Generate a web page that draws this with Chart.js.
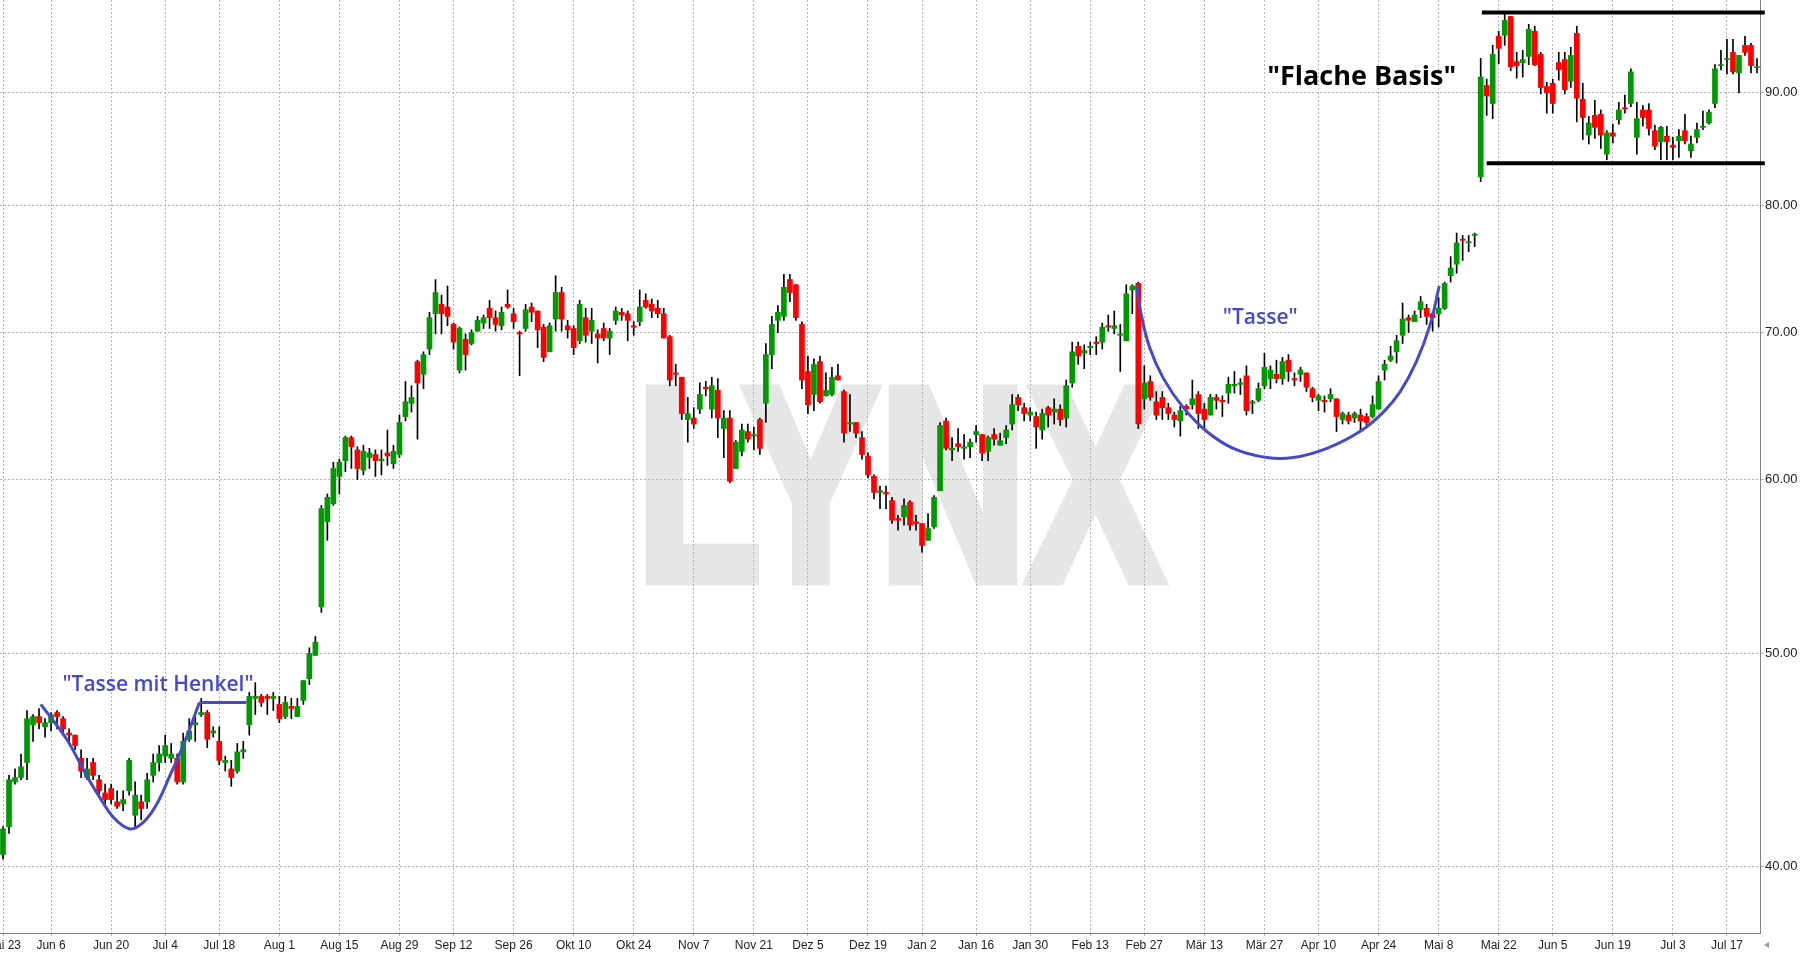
<!DOCTYPE html>
<html lang="de">
<head>
<meta charset="utf-8">
<title>Tasse mit Henkel / Flache Basis</title>
<script src="https://cdn.jsdelivr.net/npm/chart.js@4.4.1/dist/chart.umd.min.js"></script>
<style>
  html, body { margin: 0; padding: 0; background: #fff; }
  #wrap { position: relative; width: 1806px; height: 958px; }
</style>
</head>
<body>
<div id="wrap"><canvas id="chart"></canvas></div>
<script>
// ---------------------------------------------------------
// Daten (Tageskerzen)
// ---------------------------------------------------------
const startDay = "2022-05-24";
const holidays = ["2022-05-30", "2022-06-20", "2022-07-04", "2022-09-05", "2022-11-24", "2022-12-26",
  "2023-01-02", "2023-01-16", "2023-02-20", "2023-04-07", "2023-05-29", "2023-07-04"];

const tickDates = ["2022-05-23", "2022-06-06", "2022-06-20", "2022-07-04", "2022-07-18", "2022-08-01",
  "2022-08-15", "2022-08-29", "2022-09-12", "2022-09-26", "2022-10-10", "2022-10-24", "2022-11-07",
  "2022-11-21", "2022-12-05", "2022-12-19", "2023-01-02", "2023-01-16", "2023-01-30", "2023-02-13",
  "2023-02-27", "2023-03-13", "2023-03-27", "2023-04-10", "2023-04-24", "2023-05-08", "2023-05-22",
  "2023-06-05", "2023-06-19", "2023-07-03", "2023-07-17"];
const tickLabels = ["Mai 23", "Jun 6", "Jun 20", "Jul 4", "Jul 18", "Aug 1", "Aug 15", "Aug 29", "Sep 12",
  "Sep 26", "Okt 10", "Okt 24", "Nov 7", "Nov 21", "Dez 5", "Dez 19", "Jan 2", "Jan 16", "Jan 30",
  "Feb 13", "Feb 27", "Mär 13", "Mär 27", "Apr 10", "Apr 24", "Mai 8", "Mai 22", "Jun 5", "Jun 19",
  "Jul 3", "Jul 17"];
const yTicks = [40, 50, 60, 70, 80, 90];

const openP = [
  40.5, 41.7, 43.7, 43.9, 44.6, 46.4, 46.8, 46.3, 46.5, 47.0,
  46.7, 46.0, 45.9, 44.8, 43.9, 44.6, 43.8, 43.2, 43.4, 42.8,
  42.7, 43.3, 42.2, 42.8, 42.8, 44.0, 44.6, 44.9, 44.8, 44.8,
  43.7, 45.7, 46.4, 46.9, 47.0, 46.0, 45.6, 44.6, 44.3, 44.2,
  45.1, 46.4, 47.7, 47.8, 47.8, 47.7, 47.4, 46.8, 47.3, 46.8,
  47.6, 48.7, 49.9, 52.5, 57.4, 58.5, 60.2, 61.2, 62.7, 61.9,
  60.6, 61.4, 61.6, 61.2, 61.7, 61.0, 61.6, 64.1, 65.0, 67.9,
  67.0, 68.8, 71.4, 72.1, 71.9, 70.6, 67.3, 69.5, 69.2, 70.1,
  70.7, 71.8, 71.1, 70.5, 72.1, 71.4, 70.0, 70.3, 71.9, 71.6,
  70.4, 68.6, 71.0, 73.0, 70.5, 70.3, 69.4, 71.1, 70.1, 69.9,
  70.3, 69.6, 70.9, 71.5, 71.4, 70.5, 70.8, 72.4, 72.1, 71.8,
  71.4, 69.7, 67.1, 66.8, 63.9, 64.0, 64.6, 66.1, 64.6, 65.9,
  63.3, 64.0, 60.7, 61.8, 63.1, 62.8, 63.9, 65.0, 68.4, 70.9,
  71.2, 74.0, 73.6, 70.6, 67.2, 65.6, 67.9, 65.5, 65.6, 66.9,
  65.8, 63.6, 63.7, 62.7, 61.5, 60.2, 59.2, 59.2, 58.7, 57.6,
  57.7, 58.6, 57.4, 57.3, 56.3, 57.1, 59.3, 63.8, 61.9, 62.3,
  62.0, 62.1, 62.9, 62.9, 61.8, 62.9, 62.2, 62.7, 63.6, 65.4,
  64.7, 64.2, 64.1, 63.2, 64.7, 64.4, 64.6, 64.0, 66.4, 69.0,
  68.5, 68.9, 69.3, 69.3, 70.5, 70.3, 69.8, 69.4, 73.2, 73.7,
  65.3, 66.5, 65.1, 65.4, 64.7, 64.2, 63.8, 64.8, 64.9, 65.6,
  64.6, 64.2, 65.4, 65.2, 65.7, 66.2, 66.3, 66.9, 65.0, 65.2,
  66.2, 66.7, 67.0, 66.7, 68.0, 66.7, 67.0, 67.1, 66.0, 65.2,
  65.2, 65.3, 65.3, 63.9, 64.2, 64.0, 64.2, 64.1, 64.1, 64.6,
  67.3, 68.0, 68.6, 69.8, 71.1, 70.8, 71.7, 71.8, 71.4, 71.4,
  71.8, 74.3, 75.2, 77.2, 76.9, 77.5, 82.4, 90.7, 89.0, 95.5,
  95.6, 97.5, 93.0, 92.9, 93.5, 96.0, 93.7, 90.6, 90.9, 92.9,
  93.2, 91.1, 95.8, 89.4, 86.1, 87.9, 88.0, 84.4, 86.3, 87.5,
  88.6, 89.0, 85.9, 88.4, 88.4, 86.5, 85.5, 86.0, 85.2, 85.6,
  86.5, 84.7, 85.9, 86.8, 87.2, 89.0, 92.6, 93.2, 93.9, 91.9,
  94.6, 94.6, 92.4
];
const highP = [
  41.7, 44.0, 44.3, 45.0, 47.1, 46.9, 47.2, 46.7, 47.0, 47.1,
  46.8, 46.2, 45.9, 45.2, 44.8, 44.8, 44.0, 43.6, 43.6, 43.3,
  43.3, 44.8, 43.7, 43.1, 44.1, 45.0, 45.4, 45.9, 45.5, 45.0,
  46.0, 46.7, 46.8, 47.7, 47.1, 46.3, 46.3, 44.9, 44.7, 45.5,
  45.6, 48.0, 48.5, 47.9, 47.9, 48.0, 47.8, 47.8, 47.7, 47.7,
  48.6, 50.3, 50.9, 58.4, 59.1, 61.1, 61.3, 62.8, 62.8, 62.1,
  62.2, 62.0, 61.9, 61.9, 63.2, 62.2, 64.2, 66.5, 66.2, 68.0,
  68.6, 71.5, 74.0, 72.8, 73.5, 70.7, 70.4, 69.9, 70.2, 71.2,
  71.3, 72.4, 71.6, 71.9, 73.2, 71.8, 70.1, 72.1, 72.2, 71.6,
  70.6, 70.7, 74.3, 73.4, 70.9, 70.5, 72.4, 71.8, 71.8, 70.2,
  70.7, 70.3, 71.9, 71.8, 71.6, 70.8, 73.2, 72.9, 72.5, 72.4,
  71.8, 69.8, 67.7, 66.8, 65.4, 64.7, 66.4, 66.5, 66.8, 66.7,
  64.5, 64.5, 62.5, 63.6, 63.6, 63.4, 64.0, 69.2, 71.2, 72.0,
  74.4, 74.4, 73.6, 70.8, 68.3, 68.1, 68.3, 67.1, 67.5, 67.7,
  65.9, 65.6, 63.7, 63.1, 61.7, 60.3, 59.6, 59.6, 58.9, 57.8,
  58.8, 58.7, 57.8, 57.3, 57.9, 59.0, 63.7, 64.0, 62.7, 63.3,
  62.9, 62.6, 63.5, 62.9, 62.8, 63.3, 63.0, 63.5, 65.6, 65.6,
  65.0, 64.7, 64.4, 64.6, 64.8, 65.3, 64.9, 66.6, 69.3, 69.3,
  69.1, 69.3, 69.7, 70.7, 71.3, 71.6, 70.6, 73.6, 73.6, 73.8,
  67.6, 66.9, 65.8, 65.8, 65.0, 64.4, 64.8, 64.9, 66.6, 65.8,
  65.0, 65.6, 65.6, 65.5, 66.8, 67.2, 66.7, 67.6, 65.2, 66.4,
  68.5, 67.6, 68.0, 68.2, 68.4, 67.1, 67.5, 67.1, 66.1, 65.6,
  65.5, 66.0, 65.3, 64.4, 64.4, 64.4, 64.6, 64.3, 65.5, 66.9,
  68.0, 69.0, 69.8, 72.2, 71.3, 71.6, 72.7, 72.1, 71.5, 72.6,
  73.8, 75.8, 77.7, 77.5, 77.5, 77.7, 93.3, 91.3, 94.6, 96.0,
  97.7, 97.5, 93.9, 94.1, 96.7, 96.5, 93.9, 91.0, 91.3, 93.9,
  93.9, 94.4, 96.5, 90.9, 87.8, 89.3, 88.4, 86.5, 87.1, 89.1,
  89.8, 92.3, 89.1, 88.8, 89.0, 87.0, 86.9, 86.9, 85.9, 86.6,
  88.0, 86.0, 87.2, 88.3, 88.4, 92.7, 94.1, 95.2, 95.2, 93.6,
  95.5, 94.8, 93.3
];
const lowP = [
  40.3, 41.4, 43.6, 43.8, 43.8, 45.6, 46.2, 45.8, 46.1, 46.2,
  45.9, 45.6, 45.2, 43.9, 43.8, 43.8, 43.0, 42.7, 42.7, 42.5,
  42.4, 43.1, 41.7, 42.0, 42.5, 43.7, 44.2, 44.6, 44.6, 43.6,
  43.6, 45.6, 45.6, 46.8, 45.3, 45.8, 44.5, 44.2, 43.5, 44.1,
  44.8, 45.9, 46.9, 47.3, 46.9, 47.1, 46.5, 46.7, 46.7, 46.8,
  47.4, 48.4, 49.9, 52.2, 56.3, 58.4, 59.1, 60.5, 60.7, 60.0,
  60.3, 60.7, 60.2, 60.3, 60.9, 60.7, 61.4, 63.8, 64.4, 62.6,
  66.0, 68.4, 69.9, 69.9, 70.5, 68.8, 67.1, 67.3, 69.1, 70.1,
  70.3, 70.3, 70.1, 70.2, 71.8, 70.3, 66.9, 70.1, 70.8, 68.9,
  67.9, 68.6, 70.1, 70.1, 69.6, 68.4, 69.2, 69.3, 69.2, 67.8,
  69.4, 68.4, 70.6, 70.9, 69.4, 69.8, 70.5, 71.8, 71.1, 71.1,
  69.6, 66.2, 66.2, 63.9, 62.4, 63.3, 64.3, 65.5, 64.0, 62.7,
  61.4, 59.8, 60.7, 61.5, 62.4, 61.9, 61.6, 63.7, 67.4, 70.0,
  70.9, 72.3, 70.9, 66.0, 64.3, 64.5, 65.0, 65.5, 65.5, 66.6,
  62.4, 63.1, 62.7, 61.3, 60.1, 58.8, 58.2, 58.2, 57.3, 56.9,
  57.2, 56.9, 56.9, 55.6, 56.3, 57.0, 59.3, 61.9, 61.2, 61.8,
  61.3, 61.4, 62.4, 61.2, 61.2, 62.2, 62.2, 62.3, 63.2, 64.5,
  63.8, 63.8, 62.0, 62.6, 63.4, 63.6, 63.5, 63.4, 66.1, 67.7,
  67.4, 68.4, 68.4, 68.8, 70.1, 69.9, 67.2, 69.4, 71.4, 63.3,
  64.6, 65.2, 63.9, 63.9, 63.9, 63.4, 62.8, 64.2, 64.6, 63.3,
  63.3, 64.2, 64.6, 64.1, 65.0, 65.7, 65.6, 64.2, 64.3, 65.1,
  66.0, 66.0, 66.4, 66.3, 66.5, 66.2, 66.5, 65.8, 65.1, 64.5,
  64.4, 65.1, 63.1, 63.6, 63.6, 63.7, 63.1, 63.4, 64.0, 64.6,
  66.6, 67.9, 67.8, 69.2, 70.0, 70.8, 71.1, 70.6, 70.1, 70.4,
  71.7, 73.8, 74.5, 75.5, 76.2, 76.6, 82.0, 87.9, 87.6, 92.8,
  94.6, 92.1, 91.4, 91.5, 92.7, 92.6, 89.9, 88.1, 88.1, 91.2,
  89.9, 90.5, 87.3, 85.7, 85.3, 85.8, 84.9, 83.9, 85.4, 87.1,
  88.1, 88.7, 84.4, 86.9, 86.1, 84.8, 83.9, 83.9, 83.9, 84.1,
  85.3, 84.1, 85.4, 86.6, 87.1, 88.6, 92.2, 91.8, 91.8, 90.0,
  93.6, 91.9, 91.9
];
const closeP = [
  41.6, 43.8, 43.9, 44.4, 46.7, 46.8, 46.5, 46.5, 46.9, 46.8,
  46.2, 45.9, 45.4, 44.2, 44.3, 44.0, 43.3, 42.9, 42.9, 42.6,
  42.9, 44.7, 43.1, 42.5, 43.8, 44.6, 45.0, 45.4, 45.0, 43.7,
  45.6, 46.1, 46.5, 47.0, 45.7, 46.1, 44.7, 44.7, 43.9, 45.1,
  45.2, 47.8, 47.8, 47.5, 47.7, 47.8, 46.7, 47.5, 47.2, 47.3,
  48.6, 50.0, 50.6, 58.2, 58.9, 60.7, 61.1, 62.7, 62.1, 60.7,
  61.8, 61.7, 61.2, 61.3, 61.5, 61.8, 63.7, 65.1, 65.4, 66.4,
  68.4, 71.1, 73.0, 71.4, 71.2, 69.3, 70.3, 68.4, 70.0, 70.9,
  71.1, 71.1, 70.6, 71.5, 71.9, 70.8, 69.9, 71.7, 71.5, 70.2,
  68.2, 70.5, 73.0, 71.0, 70.2, 68.9, 72.1, 69.8, 70.9, 69.6,
  69.6, 70.1, 71.6, 71.3, 70.9, 70.4, 71.9, 71.9, 71.6, 71.4,
  69.6, 66.6, 67.0, 64.3, 64.3, 63.6, 65.6, 66.0, 66.2, 64.0,
  64.0, 59.9, 62.4, 63.2, 62.6, 62.9, 62.0, 68.4, 70.6, 71.5,
  73.4, 73.0, 71.1, 66.6, 64.9, 67.7, 65.1, 65.9, 66.8, 66.6,
  63.0, 63.7, 63.0, 61.6, 60.3, 59.2, 59.3, 59.1, 57.5, 57.5,
  58.4, 57.2, 57.3, 56.0, 57.0, 58.9, 63.5, 62.0, 62.0, 62.1,
  62.1, 62.4, 63.1, 61.7, 62.7, 62.6, 62.5, 63.2, 64.9, 64.9,
  64.3, 64.4, 63.4, 64.3, 64.2, 64.6, 63.9, 66.2, 68.6, 68.3,
  68.7, 69.0, 69.2, 70.4, 70.4, 70.5, 69.9, 72.9, 73.5, 63.6,
  66.4, 65.4, 64.2, 64.7, 64.3, 63.9, 64.5, 64.6, 65.3, 64.3,
  63.9, 65.4, 65.2, 65.1, 66.3, 66.3, 66.4, 64.5, 65.1, 66.0,
  67.5, 67.3, 66.7, 67.9, 67.2, 66.6, 67.3, 66.1, 65.4, 65.5,
  65.1, 65.6, 64.1, 64.3, 63.8, 64.3, 63.8, 63.7, 64.9, 66.5,
  67.7, 68.3, 69.4, 71.0, 70.9, 71.3, 72.3, 71.2, 71.1, 71.8,
  73.7, 74.9, 76.9, 77.1, 77.0, 77.6, 91.5, 89.7, 93.7, 94.3,
  97.1, 92.5, 92.6, 93.2, 96.2, 92.7, 90.5, 90.0, 89.0, 92.2,
  90.3, 93.6, 89.5, 87.7, 87.2, 86.8, 86.1, 86.3, 86.0, 88.4,
  88.5, 92.0, 87.6, 87.7, 86.7, 85.1, 86.8, 85.5, 85.0, 86.0,
  85.6, 85.3, 86.6, 86.9, 88.2, 92.3, 92.7, 93.3, 92.0, 93.6,
  93.9, 92.6, 92.5
];

// Einzeichnungen (x = Kerzen-Index, y = Kurs)
const henkelCup = [
  { x: 6.3, y: 47.4 }, { x: 10.6, y: 45.7 }, { x: 13.9, y: 44.0 }, { x: 16.1, y: 43.0 },
  { x: 18.4, y: 42.1 }, { x: 21.1, y: 41.6 }, { x: 23.4, y: 41.9 }, { x: 25.6, y: 42.7 },
  { x: 27.8, y: 44.0 }, { x: 30.0, y: 45.4 }, { x: 32.7, y: 47.5 }
];
const henkelHandle = [{ x: 32.7, y: 47.5 }, { x: 40.5, y: 47.5 }];
const tasseArc = [
  { x: 188.7, y: 73.5 }, { x: 189.5, y: 71.3 }, { x: 190.9, y: 68.9 }, { x: 193.2, y: 66.7 },
  { x: 196.5, y: 64.7 }, { x: 200.4, y: 63.1 }, { x: 204.8, y: 62.0 }, { x: 210.4, y: 61.4 },
  { x: 214.8, y: 61.4 }, { x: 220.4, y: 62.0 }, { x: 225.9, y: 63.1 }, { x: 229.8, y: 64.4 },
  { x: 232.6, y: 65.8 }, { x: 235.3, y: 67.9 }, { x: 237.6, y: 70.6 }, { x: 239.1, y: 73.5 }
];
const basisTop = [{ x: 246.2, y: 97.9 }, { x: 293.3, y: 97.9 }];
const basisBottom = [{ x: 247.0, y: 83.6 }, { x: 293.3, y: 83.6 }];

// ---------------------------------------------------------
// Handelstage aufbauen
// ---------------------------------------------------------
function buildTradingDays(n) {
  const days = [];
  const d = new Date(startDay + "T12:00:00Z");
  while (days.length < n) {
    const wd = d.getUTCDay();
    const iso = d.toISOString().slice(0, 10);
    if (wd !== 0 && wd !== 6 && !holidays.includes(iso)) days.push(iso);
    d.setUTCDate(d.getUTCDate() + 1);
  }
  return days;
}

const tradingDays = buildTradingDays(openP.length);
const tickIndexLabel = {};
tickDates.forEach(function (t, k) {
  const idx = tradingDays.findIndex(d => d >= t);
  if (idx >= 0) tickIndexLabel[idx] = tickLabels[k];
});

const GREEN = "#009900";
const RED = "#ff0000";
const BLUE = "#4549cc";

const wicks = lowP.map((l, i) => [l, highP[i]]);
const bodies = openP.map((o, i) => [o, closeP[i]]);
const bodyColors = openP.map((o, i) => closeP[i] >= o ? GREEN : RED);

// ---------------------------------------------------------
// Plugin: Wasserzeichen, Beschriftungen, Pfeil
// ---------------------------------------------------------
const decoPlugin = {
  id: "deco",
  beforeDraw(chart) {
    // LYNX-Wasserzeichen hinter dem Gitter
    const ctx = chart.ctx;
    ctx.save();
    ctx.fillStyle = "#e6e6e6";
    ctx.strokeStyle = "#e6e6e6";
    ctx.lineWidth = 11;
    ctx.lineJoin = "miter";
    ctx.font = "bold 276px 'Liberation Sans', Arial, sans-serif";
    ctx.textBaseline = "alphabetic";
    const w = ctx.measureText("LYNX").width + 11;
    ctx.translate(636, 580);
    ctx.scale(536 / w, 1);
    ctx.fillText("LYNX", 0, 0);
    ctx.strokeText("LYNX", 0, 0);
    ctx.restore();
  },
  afterDatasetsDraw(chart) {
    const ctx = chart.ctx;
    const xs = chart.scales.xa, ys = chart.scales.y;
    ctx.save();
    ctx.textAlign = "center";
    ctx.textBaseline = "middle";
    ctx.fillStyle = BLUE;
    ctx.font = "600 21px 'Open Sans', sans-serif";
    ctx.fillText('"Tasse mit Henkel"', xs.getPixelForValue(25.8), ys.getPixelForValue(48.4));
    ctx.fillText('"Tasse"', xs.getPixelForValue(209.3), ys.getPixelForValue(71.1));
    ctx.fillStyle = "#000";
    ctx.font = "bold 27px 'Open Sans', sans-serif";
    ctx.fillText('"Flache Basis"', xs.getPixelForValue(226.2), ys.getPixelForValue(91.5));
    ctx.restore();
  },
  afterDraw(chart) {
    const ctx = chart.ctx;
    const a = chart.chartArea;
    ctx.save();
    ctx.fillStyle = "#9a9a9a";
    ctx.beginPath();
    ctx.moveTo(a.right + 4, a.bottom + 12);
    ctx.lineTo(a.right + 9, a.bottom + 9);
    ctx.lineTo(a.right + 9, a.bottom + 15);
    ctx.closePath();
    ctx.fill();
    ctx.restore();
  }
};

// ---------------------------------------------------------
// Chart
// ---------------------------------------------------------
const lineBase = { type: "line", xAxisID: "xa", yAxisID: "y", pointRadius: 0, fill: false, clip: false, order: 1 };

new Chart(document.getElementById("chart"), {
  type: "bar",
  data: {
    labels: tradingDays,
    datasets: [
      { label: "Docht", data: wicks, backgroundColor: "#000", barThickness: 1, grouped: false, order: 3 },
      { label: "Kerze", data: bodies, backgroundColor: bodyColors, barThickness: 5, minBarLength: 1, grouped: false, order: 2 },
      Object.assign({ label: "Tasse mit Henkel", data: henkelCup, borderColor: BLUE, borderWidth: 3, tension: 0.35 }, lineBase),
      Object.assign({ label: "Henkel", data: henkelHandle, borderColor: BLUE, borderWidth: 3 }, lineBase),
      Object.assign({ label: "Tasse", data: tasseArc, borderColor: BLUE, borderWidth: 3, tension: 0.4 }, lineBase),
      Object.assign({ label: "Basis oben", data: basisTop, borderColor: "#000", borderWidth: 4 }, lineBase),
      Object.assign({ label: "Basis unten", data: basisBottom, borderColor: "#000", borderWidth: 4 }, lineBase)
    ]
  },
  options: {
    responsive: true,
    maintainAspectRatio: false,
    animation: false,
    events: [],
    layout: { padding: 0 },
    plugins: { legend: { display: false }, tooltip: { enabled: false } },
    scales: {
      x: {
        type: "category",
        offset: true,
        afterBuildTicks: function (s) {
          s.ticks = s.ticks.filter(t => tickIndexLabel[t.value] !== undefined);
        },
        afterFit: function (s) { s.height = 25; s.paddingLeft = 0; s.paddingRight = 0; },
        ticks: {
          autoSkip: false, maxRotation: 0, padding: 2, color: "#222",
          font: { family: "'Liberation Sans Narrow', 'Liberation Sans', Arial", size: 12 },
          callback: function (value) { return tickIndexLabel[value]; }
        },
        grid: { offset: false, color: "#b5b5b5", tickLength: 3, tickColor: "#b5b5b5" },
        border: { display: true, color: "#808080", width: 1, dash: [2, 2] }
      },
      xa: { type: "linear", display: false, min: -0.5, max: openP.length - 0.5, offset: false },
      y: {
        type: "logarithmic",
        position: "right",
        min: 37.3,
        max: 99.2,
        afterBuildTicks: function (s) { s.ticks = yTicks.map(v => ({ value: v })); },
        afterFit: function (s) { s.width = 46; s.paddingTop = 0; s.paddingBottom = 0; },
        ticks: {
          padding: 1, color: "#222",
          font: { family: "'Liberation Sans', Arial", size: 13 },
          callback: function (v) { return Number(v).toFixed(2); }
        },
        grid: { color: "#b5b5b5", tickLength: 4, tickColor: "#b5b5b5" },
        border: { display: true, color: "#808080", width: 1, dash: [2, 2] }
      }
    }
  },
  plugins: [decoPlugin]
});
</script>
</body>
</html>
